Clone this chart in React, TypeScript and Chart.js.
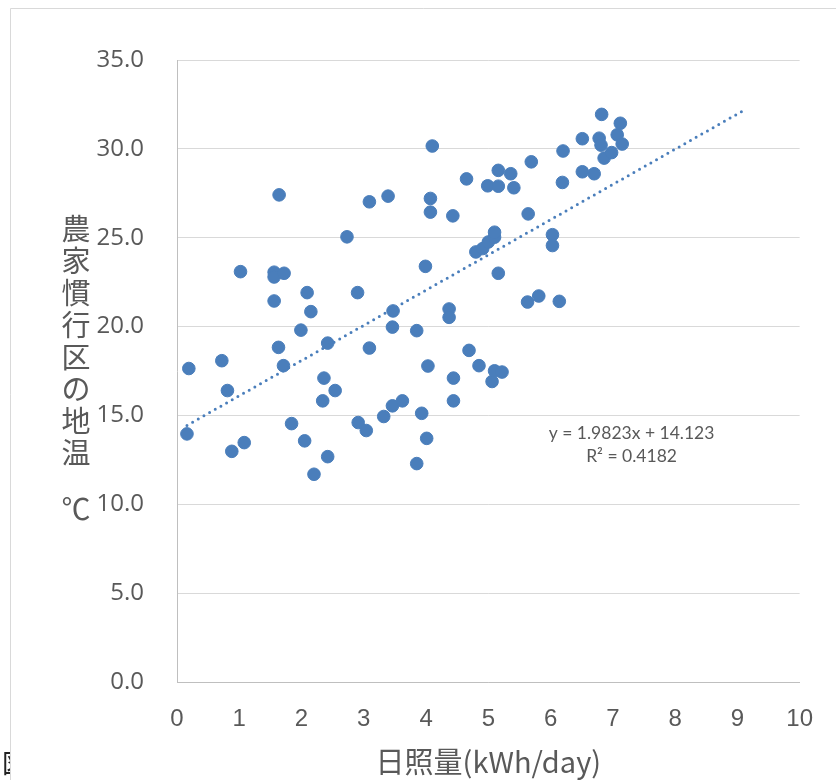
import React, { useEffect, useRef } from 'react';
import { Chart, registerables } from 'chart.js';

Chart.register(...registerables);

// 日照量 (kWh/day)
const solarX: number[] = [
  0.19, 0.16, 0.72, 0.81, 0.88, 1.02, 1.08, 1.64, 1.56, 1.56,
  1.72, 1.56, 1.63, 1.71, 1.99, 2.09, 2.15, 1.84, 2.05, 2.2,
  2.42, 2.36, 2.34, 2.54, 2.42, 2.73, 2.9, 3.09, 3.39, 3.09,
  2.91, 3.04, 3.32, 3.46, 3.62, 3.46, 3.47, 3.85, 3.85, 3.93,
  4.01, 4.03, 3.99, 4.1, 4.07, 4.07, 4.43, 4.37, 4.37, 4.44,
  4.44, 4.65, 4.69, 4.85, 4.8, 4.91, 5.0, 5.1, 5.1, 4.99,
  5.16, 5.16, 5.36, 5.41, 5.69, 5.16, 5.06, 5.1, 5.22, 5.64,
  5.63, 5.81, 6.03, 6.03, 6.14, 6.19, 6.2, 6.51, 6.51, 6.7,
  6.82, 6.78, 6.81, 6.86, 6.98, 7.07, 7.12, 7.15,
];
// 農家慣行区の地温 (℃)
const soilTemp: number[] = [
  17.64, 13.96, 18.08, 16.4, 12.98, 23.09, 13.47, 27.41, 23.06, 22.79,
  23.0, 21.44, 18.83, 17.8, 19.8, 21.91, 20.84, 14.54, 13.57, 11.69,
  12.68, 17.1, 15.82, 16.4, 19.07, 25.05, 21.91, 27.02, 27.34, 18.79,
  14.6, 14.15, 14.94, 15.54, 15.82, 19.97, 20.88, 19.77, 12.29, 15.12,
  13.71, 17.78, 23.39, 30.16, 27.21, 26.44, 26.23, 20.99, 20.52, 17.1,
  15.82, 28.31, 18.66, 17.8, 24.2, 24.39, 24.76, 25.03, 25.31, 27.92,
  28.79, 27.9, 28.6, 27.81, 29.27, 23.0, 16.91, 17.51, 17.44, 26.34,
  21.38, 21.72, 25.17, 24.56, 21.42, 28.11, 29.88, 30.57, 28.71, 28.6,
  31.94, 30.6, 30.21, 29.48, 29.79, 30.79, 31.44, 30.27,
];

const trendSlope = 1.9823;
const trendIntercept = 14.123;
const trendForward = 2;
const equationLines: string[] = ['y = 1.9823x + 14.123', 'R\u00B2 = 0.4182'];

const xTitle = '日照量(kWh/day)';
const yTitleChars: string[] = ['農', '家', '慣', '行', '区', 'の', '地', '温', ' ', '℃'];
const figureMark = '図';

const xMin = 0, xMax = 10, xStep = 1;
const yMin = 0, yMax = 35, yStep = 5;

// annotation anchor (data coordinates)
const annotationAt = { x: 7.3, y: 14.0, y2: 12.7 };

const BLUE = '#4a7ebb';
const TEXT = '#595959';

export default function App() {
  const ref = useRef<HTMLCanvasElement | null>(null);

  useEffect(() => {
    if (!ref.current) return;
    const points = solarX.map((x, i) => ({ x, y: soilTemp[i] }));
    const tx0 = Math.min(...solarX);
    const tx1 = Math.max(...solarX) + trendForward;
    const trend = [
      { x: tx0, y: trendSlope * tx0 + trendIntercept },
      { x: tx1, y: trendSlope * tx1 + trendIntercept },
    ];

    const bgPlugin = {
      id: 'bg',
      beforeDraw(chart: any) {
        const { ctx, width, height } = chart;
        ctx.save();
        ctx.fillStyle = '#ffffff';
        ctx.fillRect(0, 0, width, height);
        ctx.fillStyle = '#222222';
        ctx.font = '26px "Noto Sans CJK JP"';
        ctx.textAlign = 'left';
        ctx.textBaseline = 'middle';
        ctx.fillText(figureMark, 2, 763);
        ctx.fillStyle = '#ffffff';
        ctx.fillRect(10, 8, width, height);
        ctx.strokeStyle = '#d9d9d9';
        ctx.lineWidth = 1;
        ctx.beginPath();
        ctx.moveTo(10.5, height);
        ctx.lineTo(10.5, 8.5);
        ctx.lineTo(width, 8.5);
        ctx.stroke();
        ctx.restore();
      },
    };

    const textPlugin = {
      id: 'texts',
      afterDraw(chart: any) {
        const { ctx, scales } = chart;
        ctx.save();
        // vertical y title
        ctx.fillStyle = TEXT;
        ctx.font = '29px "Noto Sans CJK JP"';
        ctx.textAlign = 'center';
        ctx.textBaseline = 'middle';
        let y = 229;
        yTitleChars.forEach((c) => {
          if (c === ' ') {
            y += 24;
            return;
          }
          ctx.fillText(c, 76, y);
          y += 32;
        });
        // trendline equation
        ctx.font = '17.5px Lato';
        const ax = scales.x.getPixelForValue(annotationAt.x);
        ctx.fillText(equationLines[0], ax, scales.y.getPixelForValue(annotationAt.y));
        ctx.fillText(equationLines[1], ax, scales.y.getPixelForValue(annotationAt.y2));
        ctx.restore();
      },
    };

    const chart = new Chart(ref.current, {
      type: 'scatter',
      data: {
        datasets: [
          {
            label: 'trend',
            data: trend,
            showLine: true,
            pointRadius: 0,
            borderColor: BLUE,
            borderWidth: 3,
            borderDash: [0, 6.5],
            borderCapStyle: 'round',
            fill: false,
          } as any,
          {
            label: 'data',
            data: points,
            pointRadius: 6.3,
            pointBackgroundColor: BLUE,
            pointBorderColor: BLUE,
            pointBorderWidth: 1,
          },
        ],
      },
      options: {
        responsive: false,
        animation: false,
        devicePixelRatio: 1,
        layout: { padding: { top: 60, right: 36, left: 0, bottom: 0 } },
        plugins: {
          legend: { display: false },
          tooltip: { enabled: false },
        },
        scales: {
          x: {
            type: 'linear',
            min: xMin,
            max: xMax,
            afterFit: (s: any) => { s.height = 98; },
            ticks: {
              stepSize: xStep,
              color: TEXT,
              padding: 23,
              font: { family: '"Liberation Sans Narrow", "Liberation Sans"', size: 24 },
            },
            grid: { display: false, drawTicks: false },
            border: { display: true, color: '#bfbfbf', width: 1 },
            title: {
              display: true,
              text: xTitle,
              color: TEXT,
              font: { family: '"Noto Sans CJK JP"', size: 29 },
              padding: { top: 0, bottom: 1 },
            },
          },
          y: {
            type: 'linear',
            min: yMin,
            max: yMax,
            afterFit: (s: any) => { s.width = 177; },
            ticks: {
              stepSize: yStep,
              color: TEXT,
              padding: 33,
              font: { family: '"Open Sans"', size: 24 },
              callback: (v: any) => Number(v).toFixed(1),
            },
            grid: { color: '#d9d9d9', lineWidth: 1, drawTicks: false },
            border: { display: true, color: '#bfbfbf', width: 1 },
          },
        },
      } as any,
      plugins: [bgPlugin, textPlugin],
    });
    return () => chart.destroy();
  }, []);

  return (
    <div style={{ position: 'absolute', left: 0, top: 0, width: 836, height: 780 }}>
      <canvas ref={ref} width={836} height={780} style={{ display: 'block' }} />
    </div>
  );
}
